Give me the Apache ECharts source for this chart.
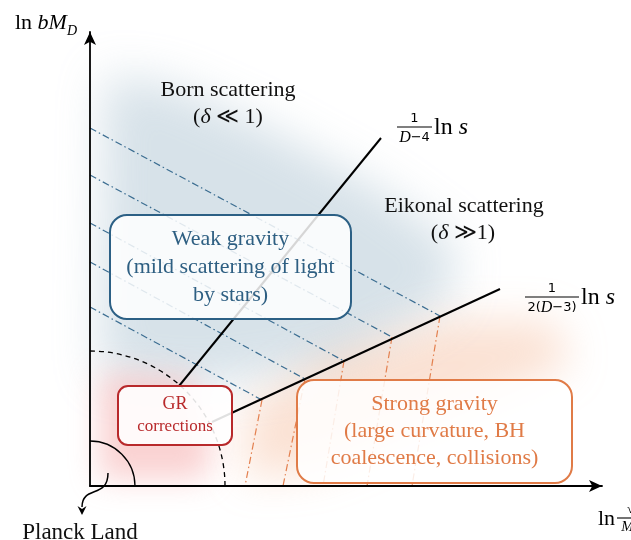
<!DOCTYPE html>
<html><head><meta charset="utf-8">
<script src="https://cdn.jsdelivr.net/npm/echarts@6/dist/echarts.min.js"></script>
<style>html,body{margin:0;padding:0;background:#fff}#chart{width:631px;height:540px}</style>
</head><body><div id="chart"></div>
<script>
// ---------------- DATA (abstract log units) ----------------
const xRange = [0, 10.24];
const yRange = [0, 9.08];
// regime boundaries
const eikonalBoundary = [[1.78, 2.00], [5.82, 6.96]];   // 1/(D-4) ln s
const strongBoundary  = [[2.44, 1.28], [8.20, 3.94]];   // 1/(2(D-3)) ln s
// dash-dot contour segments
const weakContours = [
  [[0, 7.16], [7.00, 3.40]],
  [[0, 6.22], [6.04, 2.98]],
  [[0, 5.26], [5.08, 2.50]],
  [[0, 4.48], [4.30, 2.14]],
  [[0, 3.58], [3.44, 1.72]]
];
const strongContours = [
  [[3.44, 1.72], [3.10, 0]],
  [[4.30, 2.14], [3.86, 0]],
  [[5.08, 2.50], [4.66, 0]],
  [[6.04, 2.98], [5.54, 0]],
  [[7.00, 3.40], [6.44, 0]]
];
// quarter circles around origin
const grRadius = [2.7];
const planckRadius = [0.9];
// soft shaded regions
const blueHaze = [[0.3,8.22],[1.6,8.02],[3.6,7.12],[5.8,5.92],[7.3,4.82],[7.2,3.72],[5.0,2.42],[2.2,2.02],[0.2,2.22]];
const redHaze = [[0.2,2.24],[2.0,2.18],[2.45,0.92],[2.3,0.14],[0.2,0.14]];
const orangeHaze = [[3.1,1.52],[4.8,2.62],[7.2,3.32],[9.3,3.30],[9.6,2.42],[8.2,1.82],[4.6,0.32],[3.1,0.16]];
// boxes: [xMin, yMin, xMax, yMax]
const boxNames = ['weak', 'gr', 'strong'];
const boxExtents = [[0.40, 3.34, 5.22, 5.42], [0.56, 0.82, 2.84, 2.00], [4.14, 0.06, 9.64, 2.12]];
const boxTexts = [
  'Weak gravity\n(mild scattering of light\nby stars)',
  '{a|GR}\n{b|corrections}',
  'Strong gravity\n(large curvature, BH\ncoalescence, collisions)'
];
// region labels
const regionLabelPos = [[2.76, 7.92], [2.76, 7.38], [7.48, 5.60], [7.46, 5.06]];
const regionLabelText = ['Born scattering', '({i|δ} ≪ 1)', 'Eikonal scattering', '({i|δ} ≫1)'];
// boundary labels (fractions)
const slopeLabelPos = [[6.14, 7.18], [8.70, 3.78]];
const slopeLabelNum = ['1', '1'];
const slopeLabelDen = ['{i|D}{r|−4}', '{r|2(}{i|D}{r|−3)}'];
// x-axis fraction label
const xFracPos = [[10.54, -0.64]];
// Planck Land pointer: start, control1, control2, end, tip ; label
const planckPointer = [[0.36, 0.26], [0.36, -0.26], [-0.16, 0.02], [-0.16, -0.42], [-0.16, -0.58]];
const planckLabelPos = [[-0.2, -0.94]];
const planckLabel = 'Planck Land';

// ---------------- STYLES ----------------
const SERIF = '"Liberation Serif", "DejaVu Serif", serif';
const SANS = '"DejaVu Sans", sans-serif';
const boxStyles = {
  weak:   { stroke: '#2c6085', fill: 'rgba(255,255,255,0.84)', color: '#2e5f82', r: 17, lineHeight: 28, fontSize: 22 },
  gr:     { stroke: '#b8292b', fill: 'rgba(255,255,255,0.88)', color: '#b8292b', r: 10, lineHeight: 22, fontSize: 17 },
  strong: { stroke: '#e07b47', fill: 'rgba(255,255,255,0.86)', color: '#e07b47', r: 17, lineHeight: 27, fontSize: 22 }
};
const fracBarWidth = [35, 54];

function hazeSeries(poly, color, blur) {
  return {
    type: 'custom', z: 0, silent: true, data: poly,
    renderItem(params, api) {
      if (params.dataIndex !== 0) return;
      const OFF = 3000;
      const pts = poly.map(p => { const c = api.coord(p); return [c[0] + OFF, c[1]]; });
      return { type: 'polygon', shape: { points: pts },
        style: { fill: '#000', shadowColor: color, shadowBlur: blur, shadowOffsetX: -OFF, shadowOffsetY: 0 } };
    }
  };
}

function arcSeries(radius, style) {
  return {
    type: 'custom', z: 3, silent: true, data: radius.map(r => [0, 0, r]),
    renderItem(params, api) {
      const c = api.coord([api.value(0), api.value(1)]);
      const r = api.size([api.value(2), 0])[0];
      return { type: 'arc', shape: { cx: c[0], cy: c[1], r: r, startAngle: -Math.PI / 2, endAngle: 0, clockwise: true },
        style: Object.assign({ fill: null }, style) };
    }
  };
}

const series = [];
series.push(hazeSeries(blueHaze, 'rgba(165,188,204,0.44)', 45));
series.push(hazeSeries(redHaze, 'rgba(244,160,160,0.48)', 30));
series.push(hazeSeries(orangeHaze, 'rgba(245,182,148,0.40)', 40));

weakContours.forEach(seg => series.push({
  type: 'line', data: seg, symbol: 'none', silent: true, z: 2, clip: false,
  lineStyle: { color: '#3b6d91', width: 1.2, type: [7, 3, 1.5, 3] }
}));
strongContours.forEach(seg => series.push({
  type: 'line', data: seg, symbol: 'none', silent: true, z: 2, clip: false,
  lineStyle: { color: '#e3804f', width: 1.2, type: [7, 3, 1.5, 3] }
}));
[eikonalBoundary, strongBoundary].forEach(seg => series.push({
  type: 'line', data: seg, symbol: 'none', silent: true, z: 3, clip: false,
  lineStyle: { color: '#000', width: 2 }
}));
series.push(arcSeries(grRadius, { stroke: '#000', lineWidth: 1.3, lineDash: [5, 4] }));
series.push(arcSeries(planckRadius, { stroke: '#000', lineWidth: 1.3 }));

// boxes
series.push({
  type: 'custom', z: 5, silent: true, data: boxExtents,
  renderItem(params, api) {
    const i = params.dataIndex;
    const st = boxStyles[boxNames[i]];
    const tl = api.coord([api.value(0), api.value(3)]);
    const br = api.coord([api.value(2), api.value(1)]);
    return { type: 'group', children: [
      { type: 'rect', shape: { x: tl[0], y: tl[1], width: br[0] - tl[0], height: br[1] - tl[1], r: st.r },
        style: { fill: st.fill, stroke: st.stroke, lineWidth: 2 } },
      { type: 'text', x: (tl[0] + br[0]) / 2, y: (tl[1] + br[1]) / 2,
        style: { text: boxTexts[i], align: 'center', verticalAlign: 'middle', fill: st.color,
          fontFamily: SERIF, fontSize: st.fontSize, lineHeight: st.lineHeight,
          rich: {
            a: { fontFamily: SERIF, fontSize: 18, lineHeight: 22, fill: st.color },
            b: { fontFamily: SERIF, fontSize: 17, lineHeight: 22, fill: st.color }
          } } }
    ] };
  }
});

// region labels
series.push({
  type: 'custom', z: 6, silent: true, data: regionLabelPos,
  renderItem(params, api) {
    const c = api.coord([api.value(0), api.value(1)]);
    return { type: 'text', x: c[0], y: c[1],
      style: { text: regionLabelText[params.dataIndex], align: 'center', verticalAlign: 'middle', fill: '#111',
        fontFamily: SERIF, fontSize: 22,
        rich: { i: { fontFamily: SERIF, fontStyle: 'italic', fontSize: 22, fill: '#111' } } } };
  }
});

// slope (boundary) labels
series.push({
  type: 'custom', z: 6, silent: true, data: slopeLabelPos,
  renderItem(params, api) {
    const i = params.dataIndex;
    const c = api.coord([api.value(0), api.value(1)]);
    const w = fracBarWidth[i];
    return { type: 'group', x: c[0], y: c[1], children: [
      { type: 'line', shape: { x1: 0, y1: 0, x2: w, y2: 0 }, style: { stroke: '#000', lineWidth: 1.1 } },
      { type: 'text', x: w / 2, y: -2, style: { text: slopeLabelNum[i], align: 'center', verticalAlign: 'bottom',
        fontFamily: SANS, fontSize: 13, fill: '#000' } },
      { type: 'text', x: w / 2, y: 3, style: { text: slopeLabelDen[i], align: 'center', verticalAlign: 'top', fill: '#000',
        rich: { i: { fontFamily: SERIF, fontStyle: 'italic', fontSize: 16, fill: '#000' },
                r: { fontFamily: SANS, fontSize: 13, fill: '#000' } } } },
      { type: 'text', x: w + 2, y: 1, style: { text: '{r|ln }{i|s}', align: 'left', verticalAlign: 'middle', fill: '#000',
        rich: { r: { fontFamily: SERIF, fontSize: 24, fill: '#000' },
                i: { fontFamily: SERIF, fontStyle: 'italic', fontSize: 24, fill: '#000' } } } }
    ] };
  }
});

// x-axis fraction (continuation of axis name)
series.push({
  type: 'custom', z: 6, silent: true, data: xFracPos,
  renderItem(params, api) {
    const c = api.coord([api.value(0), api.value(1)]);
    return { type: 'group', x: c[0], y: c[1], children: [
      { type: 'line', shape: { x1: 0, y1: 0, x2: 28, y2: 0 }, style: { stroke: '#000', lineWidth: 1.1 } },
      { type: 'text', x: 16, y: -2, style: { text: '√s', align: 'center', verticalAlign: 'bottom',
        fontFamily: SERIF, fontSize: 13, fill: '#000' } },
      { type: 'text', x: 14, y: 2, style: { text: '{i|M}{s|D}', align: 'center', verticalAlign: 'top', fill: '#000',
        rich: { i: { fontFamily: SERIF, fontStyle: 'italic', fontSize: 15, fill: '#000' },
                s: { fontFamily: SERIF, fontStyle: 'italic', fontSize: 10, fill: '#000' } } } }
    ] };
  }
});

// Planck Land pointer + label
series.push({
  type: 'custom', z: 6, silent: true, data: planckPointer,
  renderItem(params, api) {
    if (params.dataIndex !== 0) return;
    const p = planckPointer.map(q => api.coord(q));
    const tip = p[4];
    return { type: 'group', children: [
      { type: 'bezierCurve', shape: { x1: p[0][0], y1: p[0][1], cpx1: p[1][0], cpy1: p[1][1], cpx2: p[2][0], cpy2: p[2][1], x2: p[3][0], y2: p[3][1] },
        style: { stroke: '#000', lineWidth: 1.5, fill: null } },
      { type: 'polygon', shape: { points: [[tip[0], tip[1]], [tip[0] - 4.5, tip[1] - 9], [tip[0], tip[1] - 6], [tip[0] + 4.5, tip[1] - 9]] },
        style: { fill: '#000' } }
    ] };
  }
});
series.push({
  type: 'custom', z: 6, silent: true, data: planckLabelPos,
  renderItem(params, api) {
    const c = api.coord([api.value(0), api.value(1)]);
    return { type: 'text', x: c[0], y: c[1], style: { text: planckLabel, align: 'center', verticalAlign: 'middle',
      fontFamily: SERIF, fontSize: 23, fill: '#111' } };
  }
});

const axisCommon = {
  type: 'value', z: 10,
  axisTick: { show: false }, axisLabel: { show: false }, splitLine: { show: false },
  axisLine: { show: true, onZero: false, symbol: ['none', 'arrow'], symbolSize: [9, 13], lineStyle: { color: '#000', width: 1.8 } }
};

const chart = echarts.init(document.getElementById('chart'), null, { renderer: 'canvas' });
chart.setOption({
  animation: false,
  backgroundColor: '#fff',
  grid: { left: 90, right: 29, top: 32, bottom: 54, containLabel: false, outerBoundsMode: 'none' },
  xAxis: Object.assign({}, axisCommon, {
    min: xRange[0], max: xRange[1],
    name: '{r|ln}', nameLocation: 'end', nameGap: -4,
    nameTextStyle: { align: 'left', verticalAlign: 'top', padding: [22, 0, 0, 0],
      rich: { r: { fontFamily: SERIF, fontSize: 22, color: '#000' } } }
  }),
  yAxis: Object.assign({}, axisCommon, {
    min: yRange[0], max: yRange[1],
    name: '{r|ln }{i|bM}{s|D}', nameLocation: 'end', nameGap: 9,
    nameTextStyle: { align: 'right', verticalAlign: 'middle', padding: [0, 13, 0, 0],
      rich: {
        r: { fontFamily: SERIF, fontSize: 22, color: '#000', lineHeight: 30, verticalAlign: 'middle' },
        i: { fontFamily: SERIF, fontStyle: 'italic', fontSize: 22, color: '#000', lineHeight: 30, verticalAlign: 'middle' },
        s: { fontFamily: SERIF, fontStyle: 'italic', fontSize: 14, color: '#000', lineHeight: 14, verticalAlign: 'bottom' }
      } }
  }),
  series: series
});
</script></body></html>
